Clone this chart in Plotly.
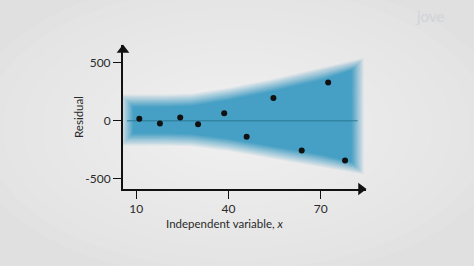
import plotly.graph_objects as go

# ---- data ----
x_vals = [11, 17.7, 24.3, 30.1, 38.6, 45.9, 54.6, 63.8, 72.4, 77.9]
residuals = [18, -23, 29, -29, 66, -138, 198, -256, 330, -342]

band_x = [7, 20, 28, 40, 55, 70, 82]
band_upper = [175, 175, 182, 232, 312, 405, 490]
band_lower = [-162, -162, -168, -208, -278, -345, -410]

x_ticks = [10, 40, 70]
y_ticks = [-500, 0, 500]

x_title = "Independent variable, <i>x</i>"
y_title = "Residual"

X_MIN, X_MAX = 5.7, 84.7
Y_MIN, Y_MAX = -589, 655

W, H = 474, 266
ML, MR, MT, MB = 123, 108, 45, 77
PW, PH = W - ML - MR, H - MT - MB
px_x = PW / (X_MAX - X_MIN)
px_y = PH / (Y_MAX - Y_MIN)


def paper_x(px):
    return (px - ML) / PW


def paper_y(py):
    return (H - MB - py) / PH


fig = go.Figure()

# blurred band: rings from outer to inner, opacity ramp 1/(N-i)
n_layers = 12
spread = 12.0  # pixels total
for i in range(n_layers):
    e = spread / 2 - i * spread / (n_layers - 1)
    ex, ey = e / px_x, e / px_y
    xs = [band_x[0] - ex] + band_x[1:-1] + [band_x[-1] + ex]
    up = [v + ey for v in band_upper]
    lo = [v - ey for v in band_lower]
    poly_x = xs + xs[::-1] + [xs[0]]
    poly_y = up + lo[::-1] + [up[0]]
    a = 1.0 / (n_layers - i)
    fig.add_trace(go.Scatter(
        x=poly_x, y=poly_y, mode="lines", fill="toself",
        fillcolor=f"rgba(70,160,197,{a:.3f})", line=dict(width=0),
        hoverinfo="skip", showlegend=False))

# zero line
fig.add_trace(go.Scatter(x=[band_x[0], band_x[-1]], y=[0, 0], mode="lines",
                         line=dict(color="#2a7893", width=1), showlegend=False))

# points
fig.add_trace(go.Scatter(x=x_vals, y=residuals, mode="markers",
                         marker=dict(color="#111111", size=6), showlegend=False))

# axis arrowheads
fig.add_trace(go.Scatter(x=[X_MIN], y=[Y_MAX - 5 / px_y], mode="markers",
                         marker=dict(symbol="triangle-up", size=11, color="#111"),
                         cliponaxis=False, showlegend=False))
fig.add_trace(go.Scatter(x=[X_MAX - 5 / px_x], y=[Y_MIN], mode="markers",
                         marker=dict(symbol="triangle-right", size=11, color="#111"),
                         cliponaxis=False, showlegend=False))

# background vignette
shapes = []
for k in range(14):
    f = 1 - k / 14
    cx, cy = paper_x(237), paper_y(128)
    rx = 1.15 * f * (W / 2) / PW
    ry = 1.15 * f * (H / 2) / PH
    shapes.append(dict(type="circle", xref="paper", yref="paper",
                       x0=cx - rx, x1=cx + rx, y0=cy - ry, y1=cy + ry,
                       fillcolor="rgba(255,255,255,0.07)", line=dict(width=0),
                       layer="below"))

font = "Lato, 'Open Sans', sans-serif"
fig.update_layout(
    width=W, height=H,
    margin=dict(l=ML, r=MR, t=MT, b=MB),
    paper_bgcolor="#e0e0e0", plot_bgcolor="rgba(0,0,0,0)",
    shapes=shapes,
    font=dict(family=font, size=12, color="#2a2a2a"),
    xaxis=dict(range=[X_MIN, X_MAX], showgrid=False, zeroline=False,
               showline=True, linecolor="#111", linewidth=2,
               ticks="outside", ticklen=8, tickwidth=1.3, tickcolor="#111",
               tickvals=x_ticks, ticktext=[str(v) for v in x_ticks]),
    yaxis=dict(range=[Y_MIN, Y_MAX], showgrid=False, zeroline=False,
               showline=True, linecolor="#111", linewidth=2,
               ticks="outside", ticklen=8, tickwidth=1.3, tickcolor="#111",
               tickvals=y_ticks, ticktext=[str(v) for v in y_ticks]),
    annotations=[
        dict(text=x_title, xref="paper", yref="paper",
             x=paper_x(225), y=paper_y(223), xanchor="center", yanchor="middle",
             showarrow=False, font=dict(size=11.5, color="#2a2a2a", family=font)),
        dict(text=y_title, xref="paper", yref="paper", textangle=-90,
             x=paper_x(78), y=paper_y(117), xanchor="center", yanchor="middle",
             showarrow=False, font=dict(size=11.5, color="#2a2a2a", family=font)),
        dict(text="jove", xref="paper", yref="paper",
             x=paper_x(430), y=paper_y(16), xanchor="center", yanchor="middle",
             showarrow=False, font=dict(size=15, color="#d0d3d8", family=font)),
    ],
)

fig.write_html("out.html")
